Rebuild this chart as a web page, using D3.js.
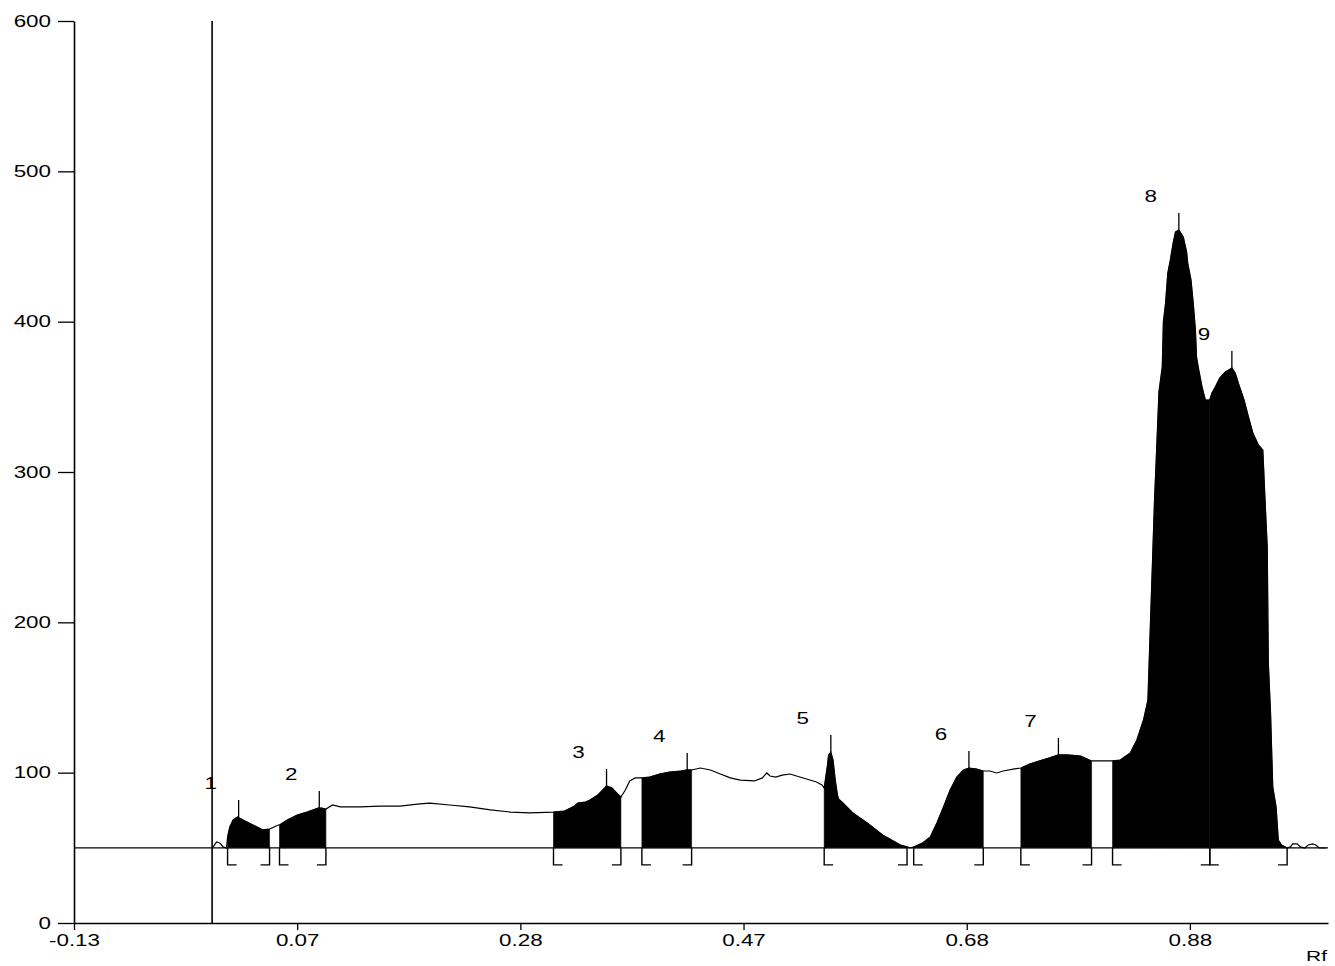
<!DOCTYPE html>
<html>
<head>
<meta charset="utf-8">
<script src="https://cdn.jsdelivr.net/npm/d3@7"></script>
<style>
body { margin: 0; background: #fff; }
text { font-family: "Liberation Sans", Arial, sans-serif; font-size: 16px; fill: #000; }
</style>
</head>
<body>
<svg id="chart" width="1335" height="966"></svg>
<script>
// densitogram trace (Rf, intensity)
const traceRf = [
  -0.004, -0.001, 0.002, 0.005, 0.008, 0.009, 0.011, 0.014, 0.018, 0.023, 0.032, 0.041, 0.047, 0.049,
  0.055, 0.056, 0.063, 0.072, 0.081, 0.091, 0.094, 0.098, 0.104, 0.111, 0.129, 0.147, 0.165, 0.183,
  0.192, 0.210, 0.228, 0.247, 0.265, 0.283, 0.304, 0.314, 0.323, 0.326, 0.333, 0.337, 0.344, 0.352,
  0.357, 0.362, 0.365, 0.369, 0.373, 0.378, 0.384, 0.391, 0.400, 0.409, 0.419, 0.425, 0.429, 0.437,
  0.446, 0.455, 0.464, 0.473, 0.486, 0.493, 0.497, 0.500, 0.505, 0.511, 0.518, 0.527, 0.536, 0.542,
  0.547, 0.549, 0.552, 0.553, 0.555, 0.557, 0.559, 0.561, 0.562, 0.566, 0.575, 0.588, 0.602, 0.618,
  0.624, 0.627, 0.630, 0.638, 0.645, 0.651, 0.657, 0.663, 0.669, 0.675, 0.680, 0.687, 0.693, 0.699,
  0.705, 0.711, 0.720, 0.727, 0.735, 0.744, 0.753, 0.761, 0.769, 0.781, 0.791, 0.799, 0.810, 0.817,
  0.826, 0.832, 0.838, 0.842, 0.845, 0.848, 0.850, 0.852, 0.855, 0.856, 0.858, 0.860, 0.862, 0.865,
  0.867, 0.870, 0.874, 0.877, 0.878, 0.881, 0.883, 0.885, 0.886, 0.888, 0.891, 0.894, 0.898, 0.900,
  0.903, 0.907, 0.912, 0.918, 0.921, 0.925, 0.929, 0.933, 0.937, 0.942, 0.946, 0.948, 0.950, 0.951,
  0.953, 0.955, 0.958, 0.960, 0.963, 0.968, 0.971, 0.973, 0.977, 0.980, 0.984, 0.987, 0.991, 0.994,
  0.997, 1.003
];
const traceValue = [
  50.6, 53.9, 53.2, 50.6, 49.9, 57.2, 63.9, 68.5, 70.5, 68.5, 65.2, 61.9, 62.5, 63.2,
  65.2, 65.2, 68.5, 71.8, 73.8, 76.5, 76.5, 75.8, 78.5, 77.2, 77.2, 77.8, 77.8, 79.2,
  79.8, 78.5, 77.2, 75.2, 73.8, 73.2, 73.8, 74.5, 77.8, 79.8, 80.5, 81.8, 85.1, 91.1,
  89.8, 85.8, 83.8, 88.5, 94.5, 96.5, 96.5, 97.1, 99.1, 100.4, 101.1, 101.8, 101.8, 103.1,
  101.8, 99.1, 96.5, 95.1, 94.5, 96.5, 99.8, 97.8, 97.1, 98.4, 99.1, 97.1, 95.1, 93.8,
  91.8, 89.8, 105.1, 111.8, 113.7, 108.4, 95.1, 85.1, 82.5, 79.8, 73.2, 66.5, 58.5, 51.9,
  50.6, 49.9, 50.6, 53.2, 57.2, 66.5, 77.2, 88.5, 97.1, 101.8, 103.1, 102.4, 101.1, 101.1,
  99.8, 101.1, 102.4, 103.1, 105.8, 107.8, 109.8, 111.8, 111.8, 111.1, 107.8, 107.8, 107.8, 108.4,
  113.1, 121.7, 135.0, 148.3, 214.9, 281.4, 316.6, 353.2, 369.9, 399.8, 412.4, 432.4, 439.7, 453.0,
  459.7, 461.0, 456.3, 446.4, 439.0, 427.7, 412.4, 394.5, 376.5, 367.9, 356.5, 347.9, 347.9, 352.6,
  356.5, 362.5, 366.5, 369.2, 365.9, 356.5, 347.9, 336.6, 325.9, 318.0, 314.6, 281.4, 250.1, 173.0,
  139.7, 90.5, 77.2, 55.2, 51.9, 49.9, 50.6, 52.6, 52.6, 50.6, 49.9, 51.9, 52.6, 51.9,
  49.9, 49.9
];

// integration windows
const regionStart = [0.009, 0.056, 0.304, 0.384, 0.549, 0.630, 0.727, 0.810, 0.898];
const regionEnd   = [0.047, 0.098, 0.365, 0.429, 0.624, 0.693, 0.791, 0.898, 0.968];

// peak maxima
const peakIds    = ['1', '2', '3', '4', '5', '6', '7', '8', '9'];
const peakRf     = [0.019, 0.092, 0.352, 0.425, 0.555, 0.680, 0.761, 0.870, 0.918];
const peakHeight = [70.5, 76.5, 91.1, 101.8, 113.7, 103.1, 111.8, 461.0, 369.2];

const yTicks = [0, 100, 200, 300, 400, 500, 600];
const xTickValues = [-0.13, 0.072, 0.274, 0.476, 0.678, 0.88];
const xTickLabels = ['-0.13', '0.07', '0.28', '0.47', '0.68', '0.88'];

const baselineValue = 50;
const startLineRf = -0.005;

const trace = traceRf.map((r, i) => ({ rf: r, v: traceValue[i] }));

const svg = d3.select('#chart');

const x = d3.scaleLinear().domain([-0.13, 1.005]).range([74, 1328]);
const y = d3.scaleLinear().domain([0, 600]).range([923, 21]);

const wide = 'scale(1.4,1)';

const area = d3.area()
  .x(d => x(d.rf))
  .y0(y(baselineValue))
  .y1(d => y(d.v));

const line = d3.line()
  .x(d => x(d.rf))
  .y(d => y(d.v));

// filled windows
regionStart.forEach((s, i) => {
  const e = regionEnd[i];
  const pts = trace.filter(p => p.rf >= s - 1e-9 && p.rf <= e + 1e-9);
  svg.append('path')
    .datum(pts)
    .attr('d', area)
    .attr('fill', '#000')
    .attr('stroke', '#000')
    .attr('stroke-width', 0.6);
});

// baseline
svg.append('line')
  .attr('x1', x.range()[0]).attr('x2', x.range()[1])
  .attr('y1', y(baselineValue)).attr('y2', y(baselineValue))
  .attr('stroke', '#000').attr('stroke-width', 1.3);

// trace
svg.append('path')
  .datum(trace)
  .attr('d', line)
  .attr('fill', 'none')
  .attr('stroke', '#000')
  .attr('stroke-width', 1.2);

// start line
svg.append('line')
  .attr('x1', x(startLineRf)).attr('x2', x(startLineRf))
  .attr('y1', y(600)).attr('y2', y(0))
  .attr('stroke', '#000').attr('stroke-width', 1.6);

// window brackets under the baseline
const by = y(baselineValue);
svg.selectAll('.bstart')
  .data(regionStart)
  .enter()
  .append('path')
  .attr('d', d => `M${x(d)},${by}V${by + 17}H${x(d) + 9}`)
  .attr('fill', 'none').attr('stroke', '#000').attr('stroke-width', 1.4);

svg.selectAll('.bend')
  .data(regionEnd)
  .enter()
  .append('path')
  .attr('d', d => `M${x(d)},${by}V${by + 17}H${x(d) - 9}`)
  .attr('fill', 'none').attr('stroke', '#000').attr('stroke-width', 1.4);

// peak markers + numbers
peakIds.forEach((id, i) => {
  const px = x(peakRf[i]);
  const top = y(peakHeight[i]) - 17;
  svg.append('line')
    .attr('x1', px).attr('x2', px)
    .attr('y1', y(peakHeight[i])).attr('y2', top)
    .attr('stroke', '#000').attr('stroke-width', 1.3);
  svg.append('text')
    .attr('transform', `translate(${px - 28},${top - 11}) ${wide}`)
    .attr('text-anchor', 'middle')
    .text(id);
});

// axes
const yAxis = svg.append('g')
  .attr('transform', `translate(${x.range()[0]},0)`)
  .call(d3.axisLeft(y).tickValues(yTicks).tickSize(16).tickSizeOuter(0).tickFormat(d3.format('d')));

yAxis.selectAll('.tick text')
  .attr('x', 0)
  .attr('transform', `translate(-23,0) ${wide}`)
  .style('font-size', '16px')
  .style('font-family', '"Liberation Sans", Arial, sans-serif');

const xAxis = svg.append('g')
  .attr('transform', `translate(0,${y(0)})`)
  .call(d3.axisBottom(x).tickValues(xTickValues).tickSize(7).tickPadding(5).tickSizeOuter(0)
    .tickFormat((d, i) => xTickLabels[i]));

xAxis.selectAll('.tick text')
  .attr('transform', wide)
  .style('font-size', '16px')
  .style('font-family', '"Liberation Sans", Arial, sans-serif');

svg.selectAll('.domain').attr('stroke-width', 1.6);
svg.selectAll('.tick line').attr('stroke-width', 1.3);

svg.append('text')
  .attr('transform', `translate(1306,961) ${wide}`)
  .style('font-size', '15px')
  .text('Rf');
</script>
</body>
</html>
